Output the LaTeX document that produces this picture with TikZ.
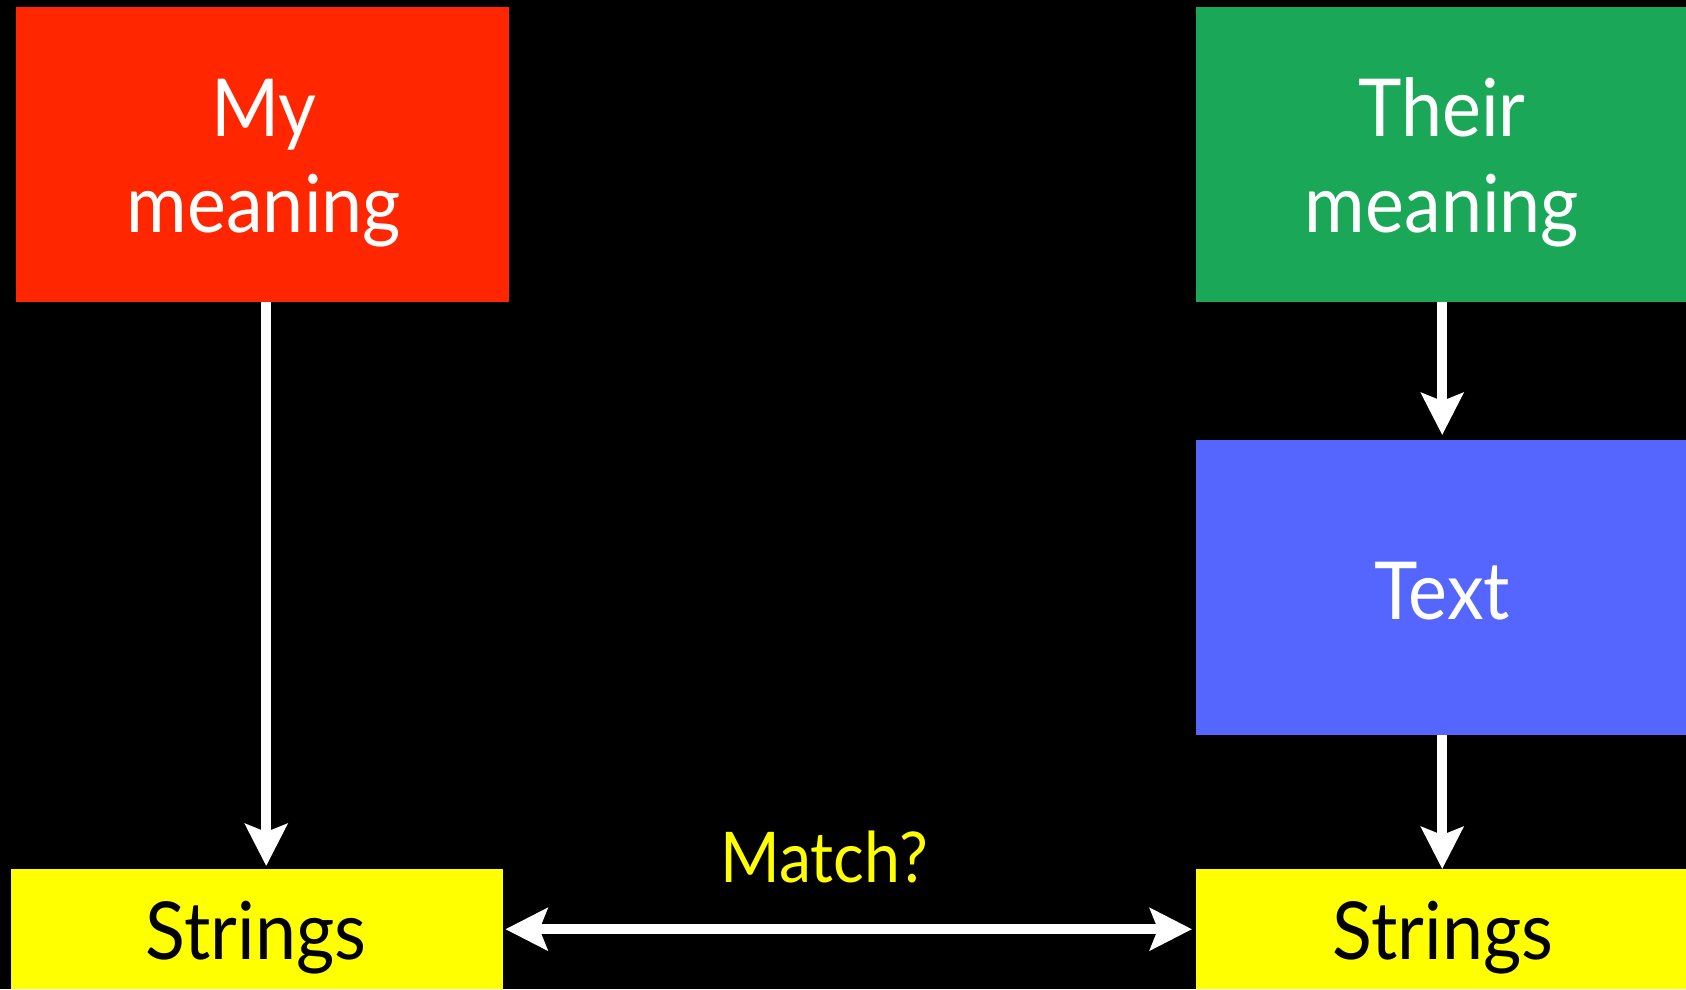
\documentclass[tikz,border=0pt]{standalone}
\usepackage{fontspec}
\setmainfont{Lato}[FakeStretch=0.92]
\usetikzlibrary{arrows.meta}
\definecolor{boxred}{RGB}{255,38,0}
\definecolor{boxgreen}{RGB}{26,167,88}
\definecolor{boxblue}{RGB}{85,102,255}
\definecolor{boxyellow}{RGB}{255,255,0}
\tikzset{
  box/.style={draw=none, rectangle, inner sep=0pt, anchor=north west},
  bigtxt/.style={font=\fontsize{80}{96}\selectfont, inner sep=0pt, anchor=base},
  midtxt/.style={font=\fontsize{70}{84}\selectfont, inner sep=0pt, anchor=base},
  flow/.style={draw=white, line width=10pt, -{Stealth[length=42pt,width=42pt,inset=8pt]}},
  flowboth/.style={draw=white, line width=10pt, {Stealth[length=42pt,width=42pt,inset=8pt]}-{Stealth[length=42pt,width=42pt,inset=8pt]}}
}
\begin{document}
\begin{tikzpicture}[x=1pt,y=-1pt]
\useasboundingbox (0,0) rectangle (1686,989);
\fill[black] (0,0) rectangle (1686,989);
\clip (0,0) rectangle (1686,989);
% boxes
\node[box, fill=boxred, minimum width=493pt, minimum height=295pt] (red) at (16,7) {};
\node[box, fill=boxgreen, minimum width=492pt, minimum height=295pt] (green) at (1196,7) {};
\node[box, fill=boxblue, minimum width=492pt, minimum height=295pt] (blue) at (1196,440) {};
\node[box, fill=boxyellow, minimum width=492pt, minimum height=120pt] (yl) at (11,869) {};
\node[box, fill=boxyellow, minimum width=492pt, minimum height=120pt] (yr) at (1196,869) {};
% texts
\node[bigtxt, text=white] (t1) at (264,136) {My};
\node[bigtxt, text=white] (t2) at (264,232) {meaning};
\node[bigtxt, text=white] (t3) at (1442,136) {Their};
\node[bigtxt, text=white] (t4) at (1442,232) {meaning};
\node[bigtxt, text=white] (t5) at (1442,619) {Text};
\node[bigtxt, text=black] (t6) at (256,959) {Strings};
\node[bigtxt, text=black] (t7) at (1443,959) {Strings};
\node[midtxt, text=boxyellow] (match) at (824,882) {Match?};
% connectors
\draw[flow, shorten >=3pt] ([xshift=3.5pt]red.south) -- ([xshift=3.5pt]yl.north -| red.south);
\draw[flow, shorten >=5pt] (green.south) -- (blue.north);
\draw[flow] (blue.south) -- (yr.north);
\draw[flowboth, shorten <=2pt, shorten >=4pt] (yl.east) -- (yr.west);
\end{tikzpicture}
\end{document}
